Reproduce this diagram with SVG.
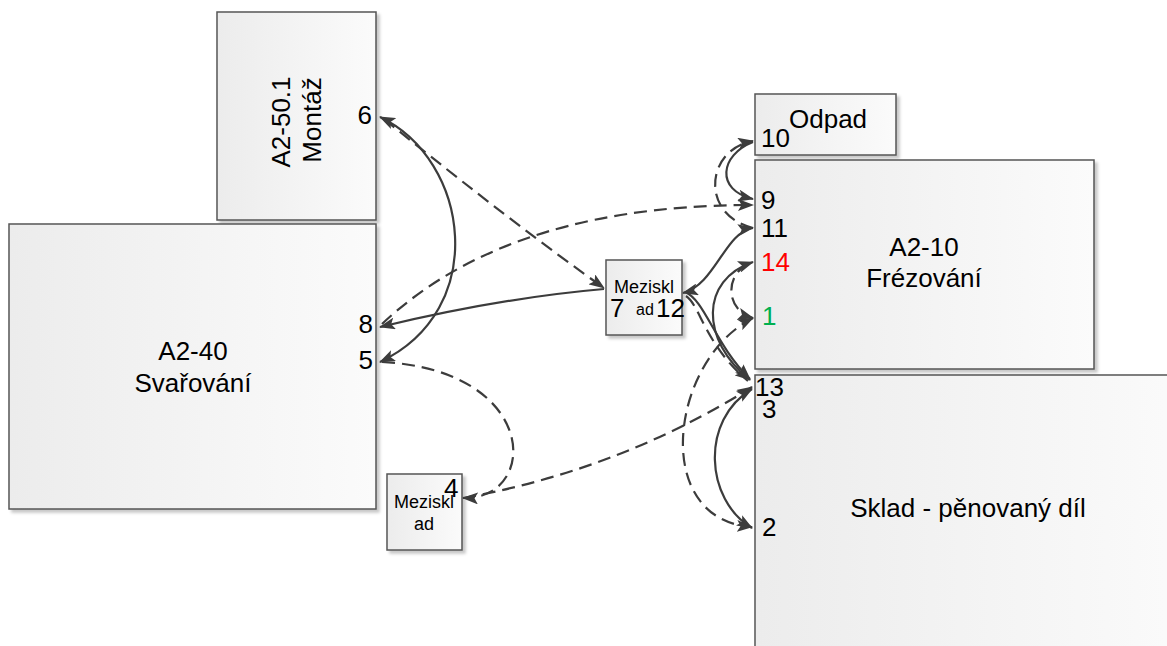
<svg xmlns="http://www.w3.org/2000/svg" width="1167" height="646" viewBox="0 0 1167 646">
  <defs>
    <linearGradient id="boxFill" x1="0" y1="0" x2="1" y2="0">
      <stop offset="0" stop-color="#ececec"/>
      <stop offset="1" stop-color="#fbfbfb"/>
    </linearGradient>
    <filter id="shadow" x="-5%" y="-5%" width="115%" height="115%">
      <feDropShadow dx="3" dy="3" stdDeviation="1.5" flood-color="#000" flood-opacity="0.22"/>
    </filter>
    <marker id="arrow" viewBox="0 0 16 12" refX="15" refY="6" markerWidth="16" markerHeight="12" markerUnits="userSpaceOnUse" orient="auto-start-reverse">
      <path d="M0,0 L16,6 L0,12 L3.5,6 z" fill="#3c3c3c"/>
    </marker>
  </defs>
  <style>
    .box { fill: url(#boxFill); stroke: #555555; stroke-width: 1.5; filter: url(#shadow); }
    text { font-family: "Liberation Sans", Arial, sans-serif; fill: #000000; }
    .lbl { font-size: 26px; text-anchor: middle; }
    .port { font-size: 26px; }
    .small { font-size: 18px; text-anchor: middle; }
    .tiny { font-size: 16px; text-anchor: middle; }
    .red { fill: #ff0000; }
    .green { fill: #00b050; }
    .conn { fill: none; stroke: #3c3c3c; stroke-width: 2.2; }
    .dash { stroke-dasharray: 13 7; }
    .end { marker-end: url(#arrow); }
    .both { marker-start: url(#arrow); marker-end: url(#arrow); }
  </style>

  <rect width="1167" height="646" fill="#ffffff"/>

  <!-- Sklad: runs past the right and bottom edges of the sheet -->
  <g id="node-sklad">
    <rect class="box" x="755" y="375" width="440" height="320"/>
    <text class="lbl" x="968" y="517">Sklad - pěnovaný díl</text>
    <text class="port" x="755" y="396">13</text>
    <text class="port" x="762" y="418">3</text>
    <text class="port" x="762" y="536">2</text>
  </g>

  <g id="node-montaz">
    <rect class="box" x="217" y="12" width="159" height="208"/>
    <text class="lbl" transform="translate(290,122) rotate(-90)">A2-50.1</text>
    <text class="lbl" transform="translate(321,120) rotate(-90)">Montáž</text>
    <text class="port" x="372" y="124" text-anchor="end">6</text>
  </g>

  <g id="node-svarovani">
    <rect class="box" x="9" y="224" width="367" height="285"/>
    <text class="lbl" x="193" y="360">A2-40</text>
    <text class="lbl" x="193" y="392">Svařování</text>
    <text class="port" x="373" y="333" text-anchor="end">8</text>
    <text class="port" x="373" y="369" text-anchor="end">5</text>
  </g>

  <g id="node-mezisklad-1">
    <rect class="box" x="606" y="260" width="76" height="75"/>
    <text class="small" x="644" y="293">Meziskl</text>
    <text class="port" x="610" y="317">7</text>
    <text class="tiny" x="645" y="315">ad</text>
    <text class="port" x="656" y="317">12</text>
  </g>

  <g id="node-mezisklad-2">
    <rect class="box" x="387" y="474" width="75" height="76"/>
    <text class="small" x="424" y="508">Meziskl</text>
    <text class="small" x="424" y="530">ad</text>
    <text class="port" x="444" y="497">4</text>
  </g>

  <g id="node-odpad">
    <rect class="box" x="755" y="94" width="141" height="61"/>
    <text class="port" x="761" y="147">10</text>
    <text class="port" x="789" y="128">Odpad</text>
  </g>

  <g id="node-frezovani">
    <rect class="box" x="755" y="160" width="339" height="209"/>
    <text class="lbl" x="924" y="256">A2-10</text>
    <text class="lbl" x="924" y="287">Frézování</text>
    <text class="port" x="761" y="209">9</text>
    <text class="port" x="761" y="237">11</text>
    <text class="port red" x="761" y="271">14</text>
    <text class="port green" x="762" y="325">1</text>
  </g>

  <g id="connectors">
    <path class="conn both" d="M380,117 C470,160 490,310 380,362"/>
    <path class="conn dash end" d="M384,119 Q515,225 604,288"/>
    <path class="conn end" d="M604,289 Q500,298 380,327"/>
    <path class="conn dash end" d="M382,324 C450,260 560,205 753,205"/>
    <path class="conn dash end" d="M382,362 C540,370 540,500 463,498"/>
    <path class="conn dash end" d="M463,498 Q620,470 752,387"/>
    <path class="conn both" d="M752,389 C700,420 705,500 752,528"/>
    <path class="conn dash both" d="M753,318 C670,360 650,520 752,527"/>
    <path class="conn both" d="M753,262 C700,280 700,340 750,380"/>
    <path class="conn dash end" d="M748,264 C725,275 725,310 753,318"/>
    <path class="conn both" d="M753,228 C725,232 715,285 683,293"/>
    <path class="conn end" d="M685,292 C705,300 715,345 750,379"/>
    <path class="conn dash" d="M686,296 C700,305 705,345 748,381"/>
    <path class="conn dash end" d="M753,228 C700,215 705,150 753,141"/>
    <path class="conn end" d="M753,142 C720,155 715,190 753,199"/>
  </g>
</svg>
